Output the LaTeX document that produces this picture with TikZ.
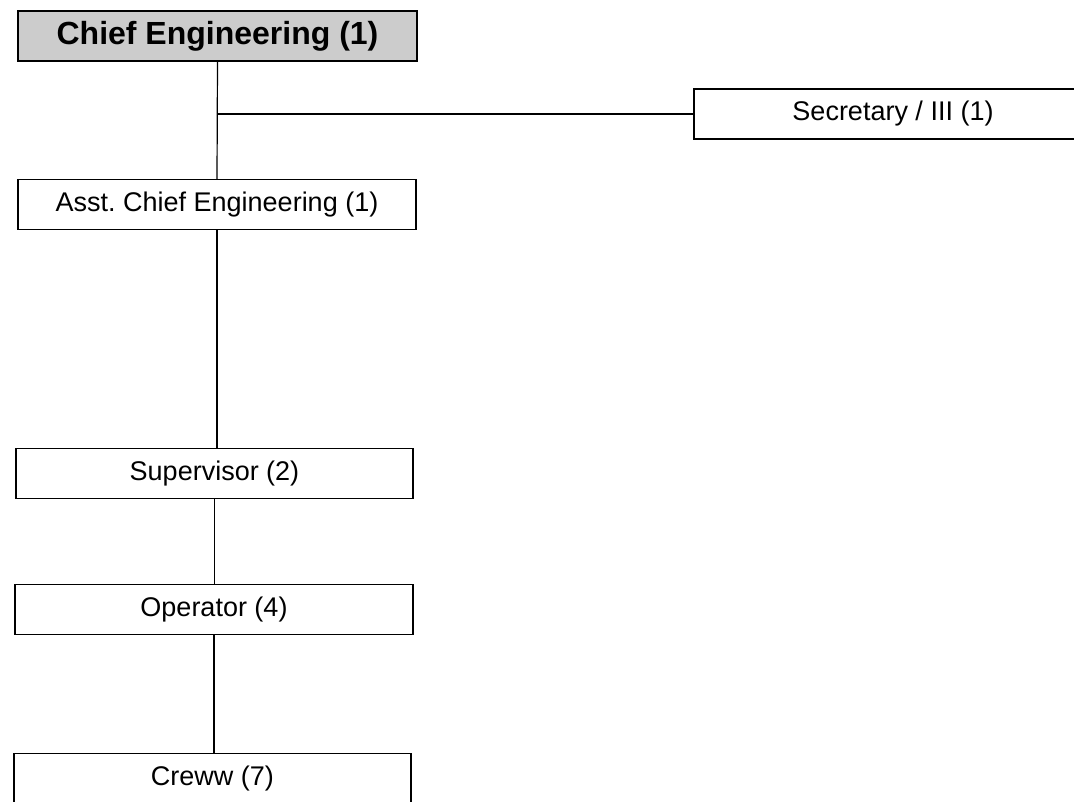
\documentclass[tikz,border=0pt]{standalone}
\usepackage{fontspec}
\setmainfont{Liberation Sans}
\frenchspacing
\begin{document}
\begin{tikzpicture}[x=1pt,y=-1pt,
  orgbox/.style={draw=black, line width=1.3pt, fill=white, inner sep=0pt,
    minimum height=50pt, font=\fontsize{27}{30}\selectfont},
  headbox/.style={orgbox, fill=black!20, font=\fontsize{32}{36}\selectfont\bfseries},
  link/.style={draw=black, line width=1.2pt}]
\useasboundingbox (0,0) rectangle (1074,801);
\clip (0,0) rectangle (1074,801);
% positions of the units
\node[headbox, minimum width=399pt] (chief) at (217.5,36) {Chief Engineering (1)};
\node[orgbox, minimum width=398pt] (sec) at (893,114) {Secretary / III (1)};
\node[orgbox, minimum width=398pt] (asst) at (217,204.5) {Asst. Chief Engineering (1)};
\node[orgbox, minimum width=397pt] (sup) at (214.5,473.5) {Supervisor (2)};
\node[orgbox, minimum width=398pt] (op) at (214,609.5) {Operator (4)};
\node[orgbox, minimum width=397pt] (crew) at (212.5,778.5) {Creww (7)};
% reporting lines
\coordinate (j) at (chief.south |- sec.west);
\draw[link] (chief.south) -- (asst.north);
\draw[link] (j) -- (sec.west);
\draw[link] (asst.south) -- (asst.south |- sup.north);
\draw[link] (sup.south) -- (sup.south |- op.north);
\draw[link] (op.south) -- (op.south |- crew.north);
\end{tikzpicture}
\end{document}
